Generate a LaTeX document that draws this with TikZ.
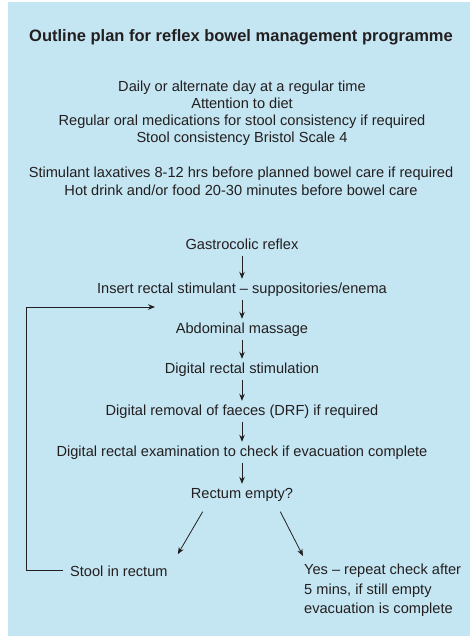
\documentclass[tikz,border=0pt]{standalone}
\usepackage{fontspec}
\setmainfont{Liberation Sans}
\usetikzlibrary{arrows.meta,calc}
\definecolor{panel}{HTML}{C4E5F2}
\definecolor{ink}{HTML}{231F20}
\tikzset{
  txt/.style={anchor=base, text=ink, inner xsep=2pt, inner ysep=3.5pt,
    font=\fontsize{14.6}{17.5}\selectfont},
  steptxt/.style={txt, text height=10.5pt, text depth=3pt},
  titletxt/.style={anchor=base, text=ink, font=\fontsize{16.5}{20}\selectfont\bfseries},
  arr/.style={draw=ink, line width=0.8pt, -{Stealth[length=7pt,width=5.5pt]}}
}
\begin{document}
\begin{tikzpicture}[x=1pt,y=-1pt]
  \useasboundingbox (0,0) rectangle (470,636);
  \fill[panel] (8,2) rectangle (470,636);

  % heading
  \node[titletxt] (title) at (241,42) {Outline plan for reflex bowel management programme};

  % general measures
  \node[txt] (daily) at (242,92) {Daily or alternate day at a regular time};
  \node[txt] (diet) at (242,109) {Attention to diet};
  \node[txt] (oral) at (242,126) {Regular oral medications for stool consistency if required};
  \node[txt] (bristol) at (242,143) {Stool consistency Bristol Scale 4};
  \node[txt] (laxa) at (241,178) {Stimulant laxatives 8-12 hrs before planned bowel care if required};
  \node[txt] (drink) at (241,196) {Hot drink and/or food 20-30 minutes before bowel care};

  % bowel care sequence
  \node[steptxt] (gastro) at (242,249) {Gastrocolic reflex};
  \node[steptxt] (insert) at (242,293) {Insert rectal stimulant -- suppositories/enema};
  \node[steptxt] (abdo) at (242,333) {Abdominal massage};
  \node[steptxt] (stim) at (242,373) {Digital rectal stimulation};
  \node[steptxt] (drf) at (242,415) {Digital removal of faeces (DRF) if required};
  \node[steptxt] (dre) at (242,456) {Digital rectal examination to check if evacuation complete};
  \node[steptxt] (empty) at (242,498) {Rectum empty?};

  % outcomes
  \node[txt, anchor=base west, inner xsep=0pt] (stool) at (70,576) {Stool in rectum};
  \node[txt, anchor=north west, align=left, inner sep=0pt] (done) at (304,564)
    {Yes -- repeat check after\\[2pt]5 mins, if still empty\\[2pt]evacuation is complete};

  \draw[arr] (gastro) -- (insert);
  \draw[arr] (insert) -- (abdo);
  \draw[arr] (abdo) -- (stim);
  \draw[arr] (stim) -- (drf);
  \draw[arr] (drf) -- (dre);
  \draw[arr] (dre) -- (empty);

  \draw[arr] ([shift={(14pt,-7pt)}]empty.south west) -- ([shift={(10pt,7.5pt)}]stool.north east);
  \draw[arr] ([shift={(-15pt,-7pt)}]empty.south east) -- ([shift={(-1pt,8pt)}]done.north west);

  % return path to the massage step
  \coordinate (loopin) at (155,307);
  \draw[arr] ([xshift=-7pt]stool.west) -| (26,307) -- (loopin);
\end{tikzpicture}
\end{document}
